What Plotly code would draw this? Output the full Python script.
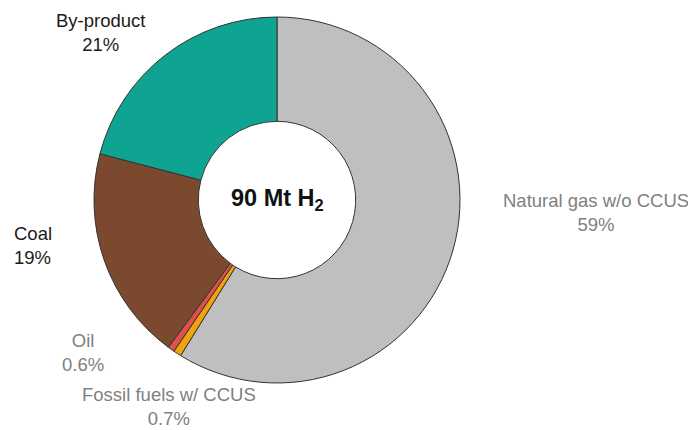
import plotly.graph_objects as go

W, H = 688, 430

labels = ["Natural gas w/o CCUS", "Fossil fuels w/ CCUS", "Oil", "Coal", "By-product"]
values = [59, 0.7, 0.6, 19, 21]
pct_text = ["59%", "0.7%", "0.6%", "19%", "21%"]
colors = ["#BFBFBF", "#F0A30A", "#E0504A", "#7B4A2E", "#0FA391"]
label_colors = ["#808080", "#808080", "#808080", "#1A1A1A", "#1A1A1A"]
center_text = "<b>90 Mt H<sub>2</sub></b>"

# pixel layout for the label blocks (centre of text block)
label_pos = [(596, 212, "center"), (169, 406, "center"), (83, 352, "center"),
             (12, 245, "left"), (100, 32, "center")]

cx, cy, r = 277, 200, 183
fig = go.Figure(go.Pie(
    labels=labels, values=values, sort=False, direction="clockwise", rotation=0,
    hole=0.43, textinfo="none", hoverinfo="label+percent",
    marker=dict(colors=colors, line=dict(color="#333333", width=1)),
    domain=dict(x=[(cx - r) / W, (cx + r) / W], y=[1 - (cy + r) / H, 1 - (cy - r) / H]),
    showlegend=False,
))

for lab, pct, col, (px, py, al) in zip(labels, pct_text, label_colors, label_pos):
    fig.add_annotation(
        x=px / W, y=1 - py / H, xref="paper", yref="paper",
        text=f"{lab}<br>{pct}", showarrow=False, align=al,
        xanchor="left" if al == "left" else "center", yanchor="middle",
        font=dict(family="Liberation Sans, Arial", size=18.5, color=col),
    )

fig.add_annotation(
    x=cx / W, y=1 - cy / H, xref="paper", yref="paper", text=center_text,
    showarrow=False, xanchor="center", yanchor="middle",
    font=dict(family="Liberation Sans, Arial", size=23.5, color="#111111"),
)

fig.update_layout(width=W, height=H, margin=dict(l=0, r=0, t=0, b=0),
                  paper_bgcolor="white", plot_bgcolor="white")
fig.write_html("out.html", config={"displayModeBar": False},
               post_script="document.body.style.margin='0';document.body.style.overflow='hidden';")
